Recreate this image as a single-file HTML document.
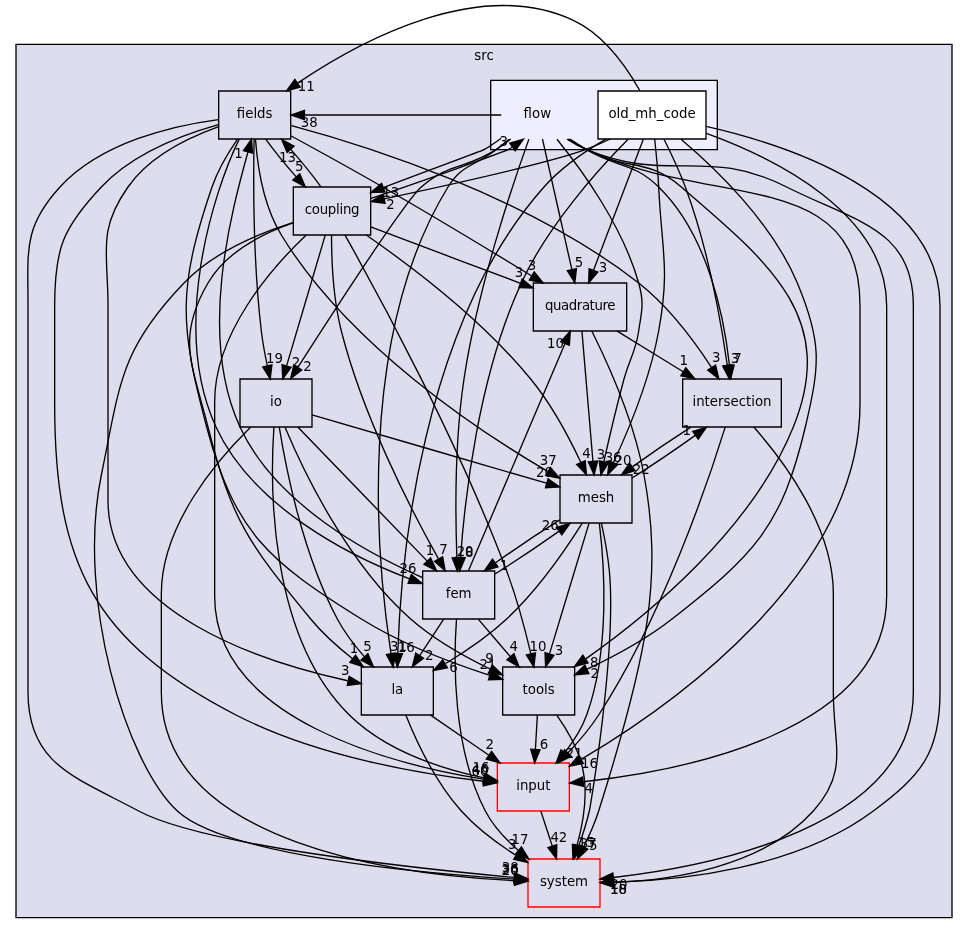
<!DOCTYPE html>
<html lang="en">
<head>
<meta charset="utf-8">
<title>src/flow directory dependency graph</title>
<style>
html,body{margin:0;padding:0;background:#fff;}
body{width:968px;height:934px;overflow:hidden;}
svg{display:block;will-change:transform;opacity:0.999;}
svg text{font-family:"DejaVu Sans","Liberation Sans",sans-serif;font-size:10px;fill:#000;}
</style>
</head>
<body>
<svg width="968" height="934" viewBox="0 0 726 700.5">
<g class="graph" transform="scale(1 1) rotate(0) translate(4 696.25)">
<polygon fill="white" stroke="none" points="-4,4 -4,-696.25 722,-696.25 722,4 -4,4"/>
<g class="cluster">
<polygon fill="#ddddee" stroke="black" points="8,-8 8,-663 710,-663 710,-8 8,-8"/>
<text text-anchor="middle" x="359" y="-651">src</text>
</g>
<g class="cluster">
<polygon fill="#eeeeff" stroke="black" points="364,-584 364,-636 534,-636 534,-584 364,-584"/>
</g>
<g class="node">
<polygon fill="none" stroke="red" points="423,-124 369,-124 369,-88 423,-88 423,-124"/>
<text text-anchor="middle" x="396" y="-103.5">input</text>
</g>
<g class="node">
<polygon fill="none" stroke="red" points="446,-52 392,-52 392,-16 446,-16 446,-52"/>
<text text-anchor="middle" x="419" y="-31.5">system</text>
</g>
<g class="edge">
<path fill="none" stroke="black" d="M401.69,-87.7C404.25,-79.9 407.33,-70.51 410.18,-61.83"/>
<polygon fill="black" stroke="black" points="413.58,-62.7 413.38,-52.1 406.93,-60.51 413.58,-62.7"/>
<text text-anchor="middle" x="415.16" y="-64.5">42</text>
</g>
<g class="node">
<polygon fill="none" stroke="black" points="214,-628 160,-628 160,-592 214,-592 214,-628"/>
<text text-anchor="middle" x="187" y="-607.5">fields</text>
</g>
<g class="edge">
<path fill="none" stroke="black" d="M159.83,-602.75C134.06,-595.52 95.85,-581.25 72,-556 42.82,-525.1 37,-509.5 37,-467 37,-467 37,-467 37,-393 37,-273.09 66.48,-215.04 173,-160 233.51,-128.73 312.8,-115.58 358.7,-110.3"/>
<polygon fill="black" stroke="black" points="359.23,-113.76 368.79,-109.21 358.48,-106.81 359.23,-113.76"/>
<text text-anchor="middle" x="355.96" y="-114.48">60</text>
</g>
<g class="node">
<polygon fill="none" stroke="black" points="427,-196 373,-196 373,-160 427,-160 427,-196"/>
<text text-anchor="middle" x="400" y="-175.5">tools</text>
</g>
<g class="edge">
<path fill="none" stroke="black" d="M173.99,-591.8C167.17,-581.87 159.35,-568.83 155,-556 129.3,-480.22 130.46,-453.34 151,-376 172.09,-296.57 197.2,-275.38 267,-232 297.37,-213.13 335.6,-198.73 363.27,-189.74"/>
<polygon fill="black" stroke="black" points="364.47,-193.03 372.95,-186.67 362.36,-186.36 364.47,-193.03"/>
<text text-anchor="middle" x="361.9" y="-194.32">21</text>
</g>
<g class="node">
<polygon fill="none" stroke="black" points="274,-556 216,-556 216,-520 274,-520 274,-556"/>
<text text-anchor="middle" x="245" y="-535.5" letter-spacing="-0.2">coupling</text>
</g>
<g class="edge">
<path fill="none" stroke="black" d="M195.42,-591.7C201.57,-583.22 209.96,-572.86 218.15,-563.58"/>
<polygon fill="black" stroke="black" points="220.81,-565.86 224.93,-556.1 215.62,-561.16 220.81,-565.86"/>
<text text-anchor="middle" x="220.5" y="-567.93">5</text>
</g>
<g class="node">
<polygon fill="none" stroke="black" points="582,-412 508,-412 508,-376 582,-376 582,-412"/>
<text text-anchor="middle" x="545" y="-391.5">intersection</text>
</g>
<g class="edge">
<path fill="none" stroke="black" d="M214.01,-602.26C268.03,-587.77 391.35,-549.57 475,-484 497.44,-466.41 516.92,-440.19 529.59,-420.76"/>
<polygon fill="black" stroke="black" points="532.69,-422.42 535.09,-412.1 526.77,-418.67 532.69,-422.42"/>
<text text-anchor="middle" x="533.16" y="-424.47">3</text>
</g>
<g class="node">
<polygon fill="none" stroke="black" points="466,-484 396,-484 396,-448 466,-448 466,-484"/>
<text text-anchor="middle" x="431" y="-463.5" letter-spacing="-0.33">quadrature</text>
</g>
<g class="edge">
<path fill="none" stroke="black" d="M214.05,-594.41C233.36,-583.91 259.91,-569.31 283,-556 321.37,-533.88 364.74,-507.66 394.56,-489.43"/>
<polygon fill="black" stroke="black" points="396.66,-492.25 403.36,-484.04 393,-486.28 396.66,-492.25"/>
<text text-anchor="middle" x="395.07" y="-494.04">3</text>
</g>
<g class="node">
<polygon fill="none" stroke="black" points="367,-268 313,-268 313,-232 367,-232 367,-268"/>
<text text-anchor="middle" x="340" y="-247.5">fem</text>
</g>
<g class="edge">
<path fill="none" stroke="black" d="M175.41,-591.92C155.84,-552 123.82,-450.32 158,-376 185.55,-316.1 258.39,-279.08 303.26,-262.07"/>
<polygon fill="black" stroke="black" points="304.46,-265.36 312.66,-258.65 302.07,-258.78 304.46,-265.36"/>
<text text-anchor="middle" x="302.06" y="-266.76">26</text>
</g>
<g class="node">
<polygon fill="none" stroke="black" points="470,-340 416,-340 416,-304 470,-304 470,-340"/>
<text text-anchor="middle" x="443" y="-319.5">mesh</text>
</g>
<g class="edge">
<path fill="none" stroke="black" d="M187.62,-591.71C189.01,-572.83 193.38,-542.3 207,-520 257.24,-437.71 354.1,-373.46 406.76,-342.76"/>
<polygon fill="black" stroke="black" points="408.82,-345.62 415.75,-337.6 405.33,-339.55 408.82,-345.62"/>
<text text-anchor="middle" x="407.12" y="-347.37">37</text>
</g>
<g class="node">
<polygon fill="none" stroke="black" points="321,-196 267,-196 267,-160 321,-160 321,-196"/>
<text text-anchor="middle" x="294" y="-175.5">la</text>
</g>
<g class="edge">
<path fill="none" stroke="black" d="M159.59,-601.01C137.74,-593.18 108.22,-578.99 92,-556 68.87,-523.22 77,-507.11 77,-467 77,-467 77,-467 77,-321 77,-236.09 194.77,-199.22 256.79,-185.69"/>
<polygon fill="black" stroke="black" points="257.88,-189.04 266.96,-183.57 256.45,-182.18 257.88,-189.04"/>
<text text-anchor="middle" x="254.94" y="-190.05">3</text>
</g>
<g class="node">
<polygon fill="none" stroke="black" points="230,-412 176,-412 176,-376 230,-376 230,-412"/>
<text text-anchor="middle" x="203" y="-391.5">io</text>
</g>
<g class="edge">
<path fill="none" stroke="black" d="M186.55,-591.53C186.02,-561.9 185.85,-499.93 192,-448 193.01,-439.47 194.7,-430.27 196.46,-421.98"/>
<polygon fill="black" stroke="black" points="199.91,-422.58 198.67,-412.06 193.08,-421.06 199.91,-422.58"/>
<text text-anchor="middle" x="201.9" y="-424.21">19</text>
</g>
<g class="edge">
<path fill="none" stroke="black" d="M159.72,-606.58C126.86,-602.2 72.19,-589.96 41,-556 13.29,-525.83 17,-507.97 17,-467 17,-467 17,-467 17,-177 17,-122.91 52.34,-113.57 100,-88 148.21,-62.13 307.93,-44.93 381.41,-38.19"/>
<polygon fill="black" stroke="black" points="381.96,-41.66 391.61,-37.28 381.33,-34.69 381.96,-41.66"/>
<text text-anchor="middle" x="378.63" y="-42.31">38</text>
</g>
<g class="edge">
<path fill="none" stroke="black" d="M399.01,-159.7C398.57,-151.98 398.04,-142.71 397.55,-134.11"/>
<polygon fill="black" stroke="black" points="401.04,-133.89 396.98,-124.1 394.05,-134.29 401.04,-133.89"/>
<text text-anchor="middle" x="404.08" y="-134.82">6</text>
</g>
<g class="edge">
<path fill="none" stroke="black" d="M413.56,-159.97C420.56,-150.09 428.37,-137.05 432,-124 437.67,-103.63 433.71,-79.9 428.71,-62.08"/>
<polygon fill="black" stroke="black" points="432,-60.86 425.72,-52.33 425.31,-62.92 432,-60.86"/>
<text text-anchor="middle" x="435.77" y="-60.96">15</text>
</g>
<g class="edge">
<path fill="none" stroke="black" d="M225.47,-519.86C199.54,-495.11 157,-446.63 157,-395 157,-395 157,-395 157,-249 157,-156.46 291.08,-122.88 358.39,-111.86"/>
<polygon fill="black" stroke="black" points="359.24,-115.27 368.58,-110.28 358.17,-108.35 359.24,-115.27"/>
<text text-anchor="middle" x="356.12" y="-116.12">46</text>
</g>
<g class="edge">
<path fill="none" stroke="black" d="M236.72,-556.1C230.61,-564.55 222.23,-574.9 214.04,-584.2"/>
<polygon fill="black" stroke="black" points="211.37,-581.93 207.25,-591.7 216.56,-586.63 211.37,-581.93"/>
<text text-anchor="middle" x="211.67" y="-574.86">13</text>
</g>
<g class="edge">
<path fill="none" stroke="black" d="M254.76,-519.88C278.32,-478.04 339.02,-366.75 376,-268 383.65,-247.58 389.95,-223.68 394.18,-205.8"/>
<polygon fill="black" stroke="black" points="397.59,-206.56 396.42,-196.03 390.77,-204.99 397.59,-206.56"/>
<text text-anchor="middle" x="399.56" y="-208.2">10</text>
</g>
<g class="edge">
<path fill="none" stroke="black" d="M274.06,-526.06C304.13,-514.74 351.49,-496.92 386.33,-483.81"/>
<polygon fill="black" stroke="black" points="387.67,-487.05 395.8,-480.25 385.2,-480.5 387.67,-487.05"/>
<text text-anchor="middle" x="385.31" y="-488.47">3</text>
</g>
<g class="edge">
<path fill="none" stroke="black" d="M244.64,-519.99C244.65,-501.87 245.79,-472.49 252,-448 268.31,-383.67 304.19,-314.03 324.75,-277.24"/>
<polygon fill="black" stroke="black" points="327.99,-278.62 329.86,-268.19 321.89,-275.17 327.99,-278.62"/>
<text text-anchor="middle" x="328.69" y="-280.64">7</text>
</g>
<g class="edge">
<path fill="none" stroke="black" d="M270.69,-519.95C302.54,-497.87 357.12,-456.86 394,-412 409.67,-392.94 422.84,-368.14 431.57,-349.56"/>
<polygon fill="black" stroke="black" points="434.87,-350.77 435.83,-340.22 428.5,-347.86 434.87,-350.77"/>
<text text-anchor="middle" x="435.96" y="-352.72">4</text>
</g>
<g class="edge">
<path fill="none" stroke="black" d="M215.79,-529.05C193.96,-521.4 165.63,-507.46 152,-484 127.88,-442.5 140.33,-422.56 152,-376 169.64,-305.6 182.87,-288.02 229,-232 238,-221.07 249.54,-210.8 260.39,-202.26"/>
<polygon fill="black" stroke="black" points="262.66,-204.93 268.5,-196.09 258.42,-199.36 262.66,-204.93"/>
<text text-anchor="middle" x="261.52" y="-206.87">1</text>
</g>
<g class="edge">
<path fill="none" stroke="black" d="M239.93,-519.87C232.74,-495.56 219.51,-450.82 210.99,-422.01"/>
<polygon fill="black" stroke="black" points="214.28,-420.79 208.08,-412.19 207.56,-422.77 214.28,-420.79"/>
<text text-anchor="middle" x="218.02" y="-420.93">2</text>
</g>
<g class="edge">
<path fill="none" stroke="black" d="M215.58,-529.29C190.96,-521.5 156.35,-507.24 134,-484 85.7,-433.78 86.07,-408.25 72,-340 52.9,-247.35 90.57,-123.57 129,-88 165.26,-54.44 311.8,-41.35 381.64,-36.95"/>
<polygon fill="black" stroke="black" points="381.99,-40.43 391.76,-36.34 381.57,-33.45 381.99,-40.43"/>
<text text-anchor="middle" x="378.57" y="-40.98">36</text>
</g>
<g class="node">
<text text-anchor="middle" x="399" y="-607.5">flow</text>
</g>
<g class="edge">
<path fill="none" stroke="black" d="M274.15,-547.47C312.52,-560.15 374.73,-582.72 377,-584 378.12,-584.63 379.24,-585.3 380.34,-586.01"/>
<polygon fill="black" stroke="black" points="378.35,-588.89 388.53,-591.84 382.42,-583.19 378.35,-588.89"/>
<text text-anchor="middle" x="373.78" y="-586.61">3</text>
</g>
<g class="edge">
<path fill="none" stroke="black" d="M539.9,-375.93C527.52,-336.03 493.3,-234.4 445,-160 438.52,-150.02 430.11,-140.15 422.09,-131.69"/>
<polygon fill="black" stroke="black" points="424.4,-129.04 414.9,-124.35 419.39,-133.94 424.4,-129.04"/>
</g>
<g class="edge">
<path fill="none" stroke="black" d="M514.15,-375.88C500.25,-366.98 484.05,-355.97 470.56,-346.31"/>
<polygon fill="black" stroke="black" points="472.29,-343.24 462.14,-340.19 468.17,-348.9 472.29,-343.24"/>
<text text-anchor="middle" x="476.87" y="-340.56">22</text>
</g>
<g class="edge">
<path fill="none" stroke="black" d="M561.49,-375.77C583.84,-350.53 621,-301.05 621,-251 621,-251 621,-251 621,-177 621,-136.89 632.77,-117.87 606,-88 568.03,-45.64 498.96,-36.08 456.23,-34.5"/>
<polygon fill="black" stroke="black" points="456.31,-31 446.23,-34.26 456.14,-38 456.31,-31"/>
<text text-anchor="middle" x="459.97" y="-25.75">18</text>
</g>
<g class="edge">
<path fill="none" stroke="black" d="M458.89,-447.88C473.79,-438.72 492.33,-427.34 508.38,-417.48"/>
<polygon fill="black" stroke="black" points="510.31,-420.41 517.01,-412.19 506.65,-414.44 510.31,-420.41"/>
<text text-anchor="middle" x="508.74" y="-422.21">1</text>
</g>
<g class="edge">
<path fill="none" stroke="black" d="M432.45,-447.87C434.49,-423.67 438.25,-379.21 440.69,-350.39"/>
<polygon fill="black" stroke="black" points="444.19,-350.45 441.55,-340.19 437.22,-349.86 444.19,-350.45"/>
<text text-anchor="middle" x="446.72" y="-351.77">3</text>
</g>
<g class="edge">
<path fill="none" stroke="black" d="M439.95,-447.79C451.65,-424.22 471.54,-380.23 479,-340 493.03,-264.32 482.4,-206.35 445,-88 442.13,-78.91 437.91,-69.43 433.71,-61.04"/>
<polygon fill="black" stroke="black" points="436.77,-59.36 429.04,-52.12 430.57,-62.6 436.77,-59.36"/>
<text text-anchor="middle" x="440.95" y="-58.72">5</text>
</g>
<g class="edge">
<path fill="none" stroke="black" d="M312.93,-263.08C273.58,-280.52 203.02,-317.26 176,-376 144.35,-444.81 169.45,-537.06 181.91,-582.05"/>
<polygon fill="black" stroke="black" points="178.6,-583.21 184.63,-591.92 185.35,-581.35 178.6,-583.21"/>
<text text-anchor="middle" x="174.91" y="-578">1</text>
</g>
<g class="edge">
<path fill="none" stroke="black" d="M354.83,-231.7C362.02,-223.3 370.8,-213.07 378.69,-203.86"/>
<polygon fill="black" stroke="black" points="381.49,-205.97 385.34,-196.1 376.17,-201.42 381.49,-205.97"/>
<text text-anchor="middle" x="381.31" y="-208.05">4</text>
</g>
<g class="edge">
<path fill="none" stroke="black" d="M347.33,-268.23C363.2,-305.56 400.85,-394.09 419.76,-438.56"/>
<polygon fill="black" stroke="black" points="416.57,-440.02 423.71,-447.85 423.01,-437.28 416.57,-440.02"/>
<text text-anchor="middle" x="412.55" y="-435.32">10</text>
</g>
<g class="edge">
<path fill="none" stroke="black" d="M367.31,-265.74C382.11,-275 400.25,-287.16 415.13,-297.7"/>
<polygon fill="black" stroke="black" points="413.29,-300.7 423.46,-303.7 417.38,-295.02 413.29,-300.7"/>
<text text-anchor="middle" x="408.72" y="-298.4">26</text>
</g>
<g class="edge">
<path fill="none" stroke="black" d="M328.63,-231.7C323.28,-223.56 316.8,-213.69 310.89,-204.7"/>
<polygon fill="black" stroke="black" points="313.66,-202.54 305.24,-196.1 307.81,-206.38 313.66,-202.54"/>
<text text-anchor="middle" x="318" y="-201.48">2</text>
</g>
<g class="edge">
<path fill="none" stroke="black" d="M338.36,-231.87C336.21,-201.15 335.23,-135.44 360,-88 365.88,-76.75 375.17,-66.73 384.66,-58.51"/>
<polygon fill="black" stroke="black" points="387.06,-61.07 392.61,-52.04 382.64,-55.64 387.06,-61.07"/>
<text text-anchor="middle" x="386.06" y="-63.04">17</text>
</g>
<g class="edge">
<path fill="none" stroke="black" d="M445.49,-303.91C449.18,-273.8 453.88,-209.76 436,-160 432.37,-149.91 426.1,-140.16 419.59,-131.83"/>
<polygon fill="black" stroke="black" points="422.17,-129.46 413.08,-124.01 416.79,-133.94 422.17,-129.46"/>
<text text-anchor="middle" x="426.65" y="-127.9">21</text>
</g>
<g class="edge">
<path fill="none" stroke="black" d="M437.81,-303.87C430.45,-279.56 416.9,-234.82 408.18,-206.01"/>
<polygon fill="black" stroke="black" points="411.45,-204.75 405.21,-196.19 404.75,-206.77 411.45,-204.75"/>
<text text-anchor="middle" x="415.21" y="-204.86">3</text>
</g>
<g class="edge">
<path fill="none" stroke="black" d="M470.1,-337.74C484.77,-347 502.73,-359.16 517.46,-369.7"/>
<polygon fill="black" stroke="black" points="515.56,-372.65 525.7,-375.7 519.67,-366.99 515.56,-372.65"/>
<text text-anchor="middle" x="510.98" y="-370.33">1</text>
</g>
<g class="edge">
<path fill="none" stroke="black" d="M415.79,-306.33C400.9,-297.01 382.61,-284.75 367.66,-274.14"/>
<polygon fill="black" stroke="black" points="369.46,-271.12 359.3,-268.12 365.37,-276.81 369.46,-271.12"/>
<text text-anchor="middle" x="374.03" y="-268.42">1</text>
</g>
<g class="edge">
<path fill="none" stroke="black" d="M432.69,-303.85C420.69,-284.8 399.5,-253.88 376,-232 362.34,-219.28 345.25,-207.69 330.22,-198.62"/>
<polygon fill="black" stroke="black" points="331.57,-195.35 321.17,-193.31 328.02,-201.39 331.57,-195.35"/>
<text text-anchor="middle" x="336.1" y="-192.23">6</text>
</g>
<g class="edge">
<path fill="none" stroke="black" d="M447.06,-303.93C449.31,-293.6 451.87,-280.12 453,-268 458.59,-208.24 438.82,-91.58 438,-88 436.02,-79.33 433.05,-70.12 430.04,-61.86"/>
<polygon fill="black" stroke="black" points="433.25,-60.45 426.42,-52.35 426.71,-62.94 433.25,-60.45"/>
<text text-anchor="middle" x="437.18" y="-60.29">37</text>
</g>
<g class="edge">
<path fill="none" stroke="black" d="M318.95,-159.88C332.04,-150.89 348.26,-139.76 362.44,-130.03"/>
<polygon fill="black" stroke="black" points="364.69,-132.73 370.95,-124.19 360.73,-126.96 364.69,-132.73"/>
<text text-anchor="middle" x="363.33" y="-134.61">2</text>
</g>
<g class="edge">
<path fill="none" stroke="black" d="M300.41,-159.78C308.13,-140.67 322.54,-109.69 342,-88 353.56,-75.12 368.85,-63.77 382.76,-54.92"/>
<polygon fill="black" stroke="black" points="384.95,-57.68 391.64,-49.47 381.29,-51.71 384.95,-57.68"/>
<text text-anchor="middle" x="380.19" y="-59.48">3</text>
</g>
<g class="edge">
<path fill="none" stroke="black" d="M201.43,-375.74C198.53,-332.67 197.41,-219.61 258,-160 285.53,-132.91 328.38,-119.36 359.03,-112.78"/>
<polygon fill="black" stroke="black" points="359.79,-116.2 368.91,-110.81 358.42,-109.34 359.79,-116.2"/>
<text text-anchor="middle" x="356.82" y="-117.19">16</text>
</g>
<g class="edge">
<path fill="none" stroke="black" d="M209.85,-375.68C223.38,-343.46 256.39,-273.79 304,-232 321.63,-216.53 344.52,-203.68 363.53,-194.5"/>
<polygon fill="black" stroke="black" points="365.21,-197.58 372.78,-190.17 362.24,-191.24 365.21,-197.58"/>
<text text-anchor="middle" x="363.16" y="-199.17">9</text>
</g>
<g class="edge">
<path fill="none" stroke="black" d="M219.53,-375.87C243.7,-350.82 288.82,-304.05 316.45,-275.41"/>
<polygon fill="black" stroke="black" points="318.99,-277.82 323.42,-268.19 313.95,-272.96 318.99,-277.82"/>
<text text-anchor="middle" x="318.54" y="-279.87">1</text>
</g>
<g class="edge">
<path fill="none" stroke="black" d="M230.06,-385.11C273.1,-372.55 357.22,-348.02 405.85,-333.83"/>
<polygon fill="black" stroke="black" points="407.05,-337.13 415.67,-330.97 405.09,-330.41 407.05,-337.13"/>
<text text-anchor="middle" x="404.39" y="-338.36">20</text>
</g>
<g class="edge">
<path fill="none" stroke="black" d="M205.48,-375.64C210.36,-345.11 223.09,-280.45 249,-232 254.35,-222 261.83,-212.2 269.17,-203.8"/>
<polygon fill="black" stroke="black" points="271.93,-205.96 276.08,-196.21 266.75,-201.25 271.93,-205.96"/>
<text text-anchor="middle" x="271.61" y="-208.03">5</text>
</g>
<g class="edge">
<path fill="none" stroke="black" d="M183.91,-375.77C158.58,-350.91 117,-302.3 117,-251 117,-251 117,-251 117,-177 117,-61.25 300.92,-39.68 381.7,-35.79"/>
<polygon fill="black" stroke="black" points="382.09,-39.28 391.93,-35.37 381.8,-32.28 382.09,-39.28"/>
<text text-anchor="middle" x="378.61" y="-39.76">20</text>
</g>
<g class="edge">
<path fill="none" stroke="black" d="M421.83,-591.98C426.38,-589.05 431.23,-586.24 436,-584 530.96,-539.41 641,-571.91 641,-467 641,-467 641,-467 641,-393 641,-265.98 499.9,-167.04 431.86,-126.71"/>
<polygon fill="black" stroke="black" points="433.56,-123.65 423.16,-121.63 430.03,-129.69 433.56,-123.65"/>
<text text-anchor="middle" x="438.09" y="-120.5">16</text>
</g>
<g class="edge">
<path fill="none" stroke="black" d="M371.95,-610C322.79,-610 273.64,-610 224.49,-610"/>
<polygon fill="black" stroke="black" points="224.33,-606.5 214.33,-610 224.33,-613.5 224.33,-606.5"/>
<text text-anchor="middle" x="227.92" y="-601.16">38</text>
</g>
<g class="edge">
<path fill="none" stroke="black" d="M422.81,-591.81C427.1,-589.03 431.61,-586.31 436,-584 466.01,-568.19 481.26,-578.09 507,-556 574,-498.51 624.15,-457.82 591,-376 559.57,-298.44 481.33,-234.56 435.33,-202.1"/>
<polygon fill="black" stroke="black" points="437.07,-199.05 426.86,-196.23 433.08,-204.8 437.07,-199.05"/>
<text text-anchor="middle" x="441.64" y="-196.27">8</text>
</g>
<g class="edge">
<path fill="none" stroke="black" d="M371.89,-592.62C367.68,-589.5 363.33,-586.45 359,-584 357.17,-582.96 316.25,-568.05 283.85,-555.67"/>
<polygon fill="black" stroke="black" points="284.71,-552.25 274.12,-551.93 282.2,-558.79 284.71,-552.25"/>
<text text-anchor="middle" x="289.09" y="-548.4">13</text>
</g>
<g class="edge">
<path fill="none" stroke="black" d="M423.42,-591.92C427.57,-589.19 431.87,-586.46 436,-584 459.24,-570.19 470.61,-574.84 490,-556 527.05,-520 539.15,-458.04 543.09,-422.39"/>
<polygon fill="black" stroke="black" points="546.6,-422.52 544.07,-412.23 539.63,-421.85 546.6,-422.52"/>
<text text-anchor="middle" x="549.08" y="-423.88">7</text>
</g>
<g class="edge">
<path fill="none" stroke="black" d="M402.86,-591.87C408.34,-567.56 418.42,-522.82 424.91,-494.01"/>
<polygon fill="black" stroke="black" points="428.34,-494.71 427.13,-484.19 421.51,-493.18 428.34,-494.71"/>
<text text-anchor="middle" x="430.32" y="-496.34">5</text>
</g>
<g class="edge">
<path fill="none" stroke="black" d="M392.68,-591.92C380.52,-558.13 354.2,-480.13 344,-412 337.04,-365.5 337.5,-310.61 338.63,-278.43"/>
<polygon fill="black" stroke="black" points="342.15,-278.17 339.05,-268.04 335.15,-277.89 342.15,-278.17"/>
<text text-anchor="middle" x="344.84" y="-279.38">20</text>
</g>
<g class="edge">
<path fill="none" stroke="black" d="M413.73,-591.84C432.25,-569.01 463.08,-526.55 475,-484 479.32,-468.59 477.36,-463.82 475,-448 472.53,-431.45 468.37,-428.15 464,-412 458.44,-391.44 452.94,-367.99 448.96,-350.32"/>
<polygon fill="black" stroke="black" points="452.29,-349.15 446.7,-340.14 445.46,-350.67 452.29,-349.15"/>
<text text-anchor="middle" x="455.84" y="-349.54">36</text>
</g>
<g class="edge">
<path fill="none" stroke="black" d="M377.69,-591.74C374.45,-589.13 371.14,-586.49 368,-584 352.11,-571.42 342.61,-573.27 332,-556 262.03,-442.11 279.19,-271.51 289.25,-205.97"/>
<polygon fill="black" stroke="black" points="292.72,-206.46 290.85,-196.03 285.81,-205.35 292.72,-206.46"/>
<text text-anchor="middle" x="294.95" y="-207.96">31</text>
</g>
<g class="edge">
<path fill="none" stroke="black" d="M379.13,-591.94C375.52,-589.15 371.72,-586.39 368,-584 344.59,-568.96 332.93,-574.34 312,-556 300.06,-545.54 246.81,-463.51 219.41,-420.75"/>
<polygon fill="black" stroke="black" points="222.32,-418.8 213.98,-412.26 216.42,-422.57 222.32,-418.8"/>
<text text-anchor="middle" x="226.64" y="-417.8">2</text>
</g>
<g class="edge">
<path fill="none" stroke="black" d="M421.26,-591.85C425.94,-588.86 430.98,-586.06 436,-584 498.74,-558.26 525.49,-586.63 586,-556 637.62,-529.87 681,-524.86 681,-467 681,-467 681,-467 681,-177 681,-75.91 528.37,-46.41 456.1,-38.11"/>
<polygon fill="black" stroke="black" points="456.37,-34.62 446.05,-37.03 455.62,-41.58 456.37,-34.62"/>
<text text-anchor="middle" x="460.24" y="-29.68">20</text>
</g>
<g class="node">
<polygon fill="white" stroke="black" points="525.5,-628 444.5,-628 444.5,-592 525.5,-592 525.5,-628"/>
<text text-anchor="middle" x="485" y="-607.5">old_mh_code</text>
</g>
<g class="edge">
<path fill="none" stroke="black" d="M525.82,-596.31C577.81,-577.3 661,-536.1 661,-467 661,-467 661,-467 661,-249 661,-147.01 506.63,-117.99 433.53,-109.96"/>
<polygon fill="black" stroke="black" points="433.67,-106.46 423.36,-108.92 432.95,-113.42 433.67,-106.46"/>
<text text-anchor="middle" x="437.53" y="-101.5">4</text>
</g>
<g class="edge">
<path fill="none" stroke="black" d="M475.94,-628.19C466.24,-645.41 449.07,-670.18 426,-681 355.54,-714.06 266.15,-665.65 219.19,-633.91"/>
<polygon fill="black" stroke="black" points="221.14,-631.01 210.92,-628.2 217.16,-636.76 221.14,-631.01"/>
<text text-anchor="middle" x="225.71" y="-628.21">11</text>
</g>
<g class="edge">
<path fill="none" stroke="black" d="M506.77,-591.83C532.72,-569.93 574.96,-529.41 594,-484 612.59,-439.67 611.05,-422.79 600,-376 582.1,-300.17 561.28,-280.13 500,-232 480.61,-216.77 456.21,-203.74 436.36,-194.41"/>
<polygon fill="black" stroke="black" points="437.58,-191.12 427.03,-190.13 434.66,-197.48 437.58,-191.12"/>
<text text-anchor="middle" x="442.03" y="-187.53">2</text>
</g>
<g class="edge">
<path fill="none" stroke="black" d="M453.75,-592C447.64,-589.07 441.2,-586.25 435,-584 407.61,-574.06 331.35,-557.18 284.19,-547.16"/>
<polygon fill="black" stroke="black" points="284.81,-543.72 274.31,-545.07 283.37,-550.57 284.81,-543.72"/>
<text text-anchor="middle" x="288.92" y="-539.18">2</text>
</g>
<g class="edge">
<path fill="none" stroke="black" d="M494.1,-591.65C499.21,-581.46 505.46,-568.21 510,-556 526.83,-510.71 536.69,-455.1 541.45,-422.5"/>
<polygon fill="black" stroke="black" points="544.95,-422.76 542.87,-412.37 538.01,-421.79 544.95,-422.76"/>
<text text-anchor="middle" x="547.26" y="-424.22">3</text>
</g>
<g class="edge">
<path fill="none" stroke="black" d="M478.49,-591.87C469.2,-567.46 452.08,-522.43 441.13,-493.64"/>
<polygon fill="black" stroke="black" points="444.36,-492.29 437.54,-484.19 437.82,-494.78 444.36,-492.29"/>
<text text-anchor="middle" x="448.29" y="-492.14">3</text>
</g>
<g class="edge">
<path fill="none" stroke="black" d="M467.07,-591.76C444.71,-569.18 406.97,-527.32 387,-484 354.92,-414.41 344.65,-323.19 341.43,-278.33"/>
<polygon fill="black" stroke="black" points="344.91,-277.96 340.77,-268.21 337.93,-278.42 344.91,-277.96"/>
<text text-anchor="middle" x="347.98" y="-278.86">8</text>
</g>
<g class="edge">
<path fill="none" stroke="black" d="M487.03,-591.84C488.15,-581.48 489.44,-568 490,-556 492.26,-508.05 498.59,-495.23 490,-448 483.56,-412.56 467.62,-374.09 456.09,-349.33"/>
<polygon fill="black" stroke="black" points="459.22,-347.76 451.76,-340.23 452.9,-350.76 459.22,-347.76"/>
<text text-anchor="middle" x="463.33" y="-347.28">20</text>
</g>
<g class="edge">
<path fill="none" stroke="black" d="M450.45,-591.85C434.81,-582.81 416.96,-570.56 404,-556 311.44,-452.06 296.55,-274.17 294.32,-206.35"/>
<polygon fill="black" stroke="black" points="297.81,-205.99 294.05,-196.08 290.81,-206.17 297.81,-205.99"/>
<text text-anchor="middle" x="300.74" y="-207.01">16</text>
</g>
<g class="edge">
<path fill="none" stroke="black" d="M525.63,-601.45C588.2,-587.21 701,-550.02 701,-467 701,-467 701,-467 701,-177 701,-131.63 687.34,-115.16 651,-88 593.03,-44.68 505.79,-35.83 456.46,-34.56"/>
<polygon fill="black" stroke="black" points="456.3,-31.06 446.24,-34.39 456.18,-38.05 456.3,-31.06"/>
<text text-anchor="middle" x="459.94" y="-25.78">10</text>
</g>
</g>
</svg>
</body>
</html>
